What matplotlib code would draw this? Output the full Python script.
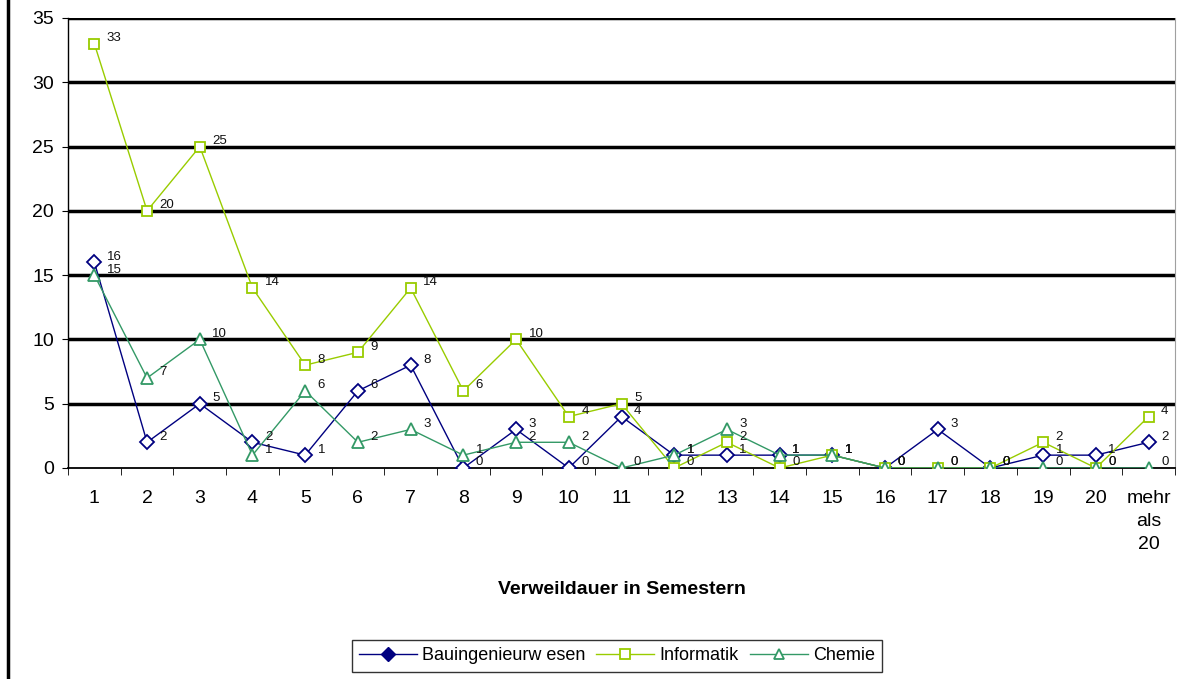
import matplotlib.pyplot as plt
import numpy as np
from matplotlib.lines import Line2D

categories = ['1', '2', '3', '4', '5', '6', '7', '8', '9', '10', '11', '12', '13', '14',
              '15', '16', '17', '18', '19', '20', 'mehr\nals\n20']
bau = [16, 2, 5, 2, 1, 6, 8, 0, 3, 0, 4, 1, 1, 1, 1, 0, 3, 0, 1, 1, 2]
informatik = [33, 20, 25, 14, 8, 9, 14, 6, 10, 4, 5, 0, 2, 0, 1, 0, 0, 0, 2, 0, 4]
chemie = [15, 7, 10, 1, 6, 2, 3, 1, 2, 2, 0, 1, 3, 1, 1, 0, 0, 0, 0, 0, 0]

plt.rcParams['font.family'] = ['Liberation Sans', 'DejaVu Sans']

fig = plt.figure(figsize=(11.85, 6.79), dpi=100)
ax = fig.add_axes([68 / 1185, 1 - 468 / 679, (1175 - 68) / 1185, (468 - 18) / 679])

x = np.arange(len(categories))
series = [
    ('Bauingenieurw esen', bau, '#000080', 'D', 7),
    ('Informatik', informatik, '#99CC00', 's', 7.5),
    ('Chemie', chemie, '#339966', '^', 8),
]

for name, vals, col, mk, ms in series:
    ax.plot(x, vals, color=col, lw=1, marker=mk, ms=ms, mfc='white',
            mec=col, mew=1.3, zorder=3)
    for xi, v in zip(x, vals):
        ax.annotate(str(v), (xi, v), xytext=(9, 4), textcoords='offset points',
                    fontsize=9.5, color='#111111', va='center', ha='left', zorder=4)

ax.set_ylim(0, 35)
ax.set_xlim(-0.5, len(categories) - 0.5)
ax.set_yticks(range(0, 36, 5))
ax.tick_params(axis='y', labelsize=14, length=4, direction='out', pad=6)
for yv in range(5, 36, 5):
    ax.axhline(yv, color='black', lw=2.5, zorder=1)

ax.set_xticks(x)
ax.set_xticklabels(categories, fontsize=14, va='top', linespacing=1.45)
ax.set_xticks(np.arange(-0.5, len(categories), 1), minor=True)
ax.tick_params(axis='x', which='major', length=0, pad=16)
ax.tick_params(axis='x', which='minor', length=5, direction='out')

ax.spines['top'].set_visible(False)
ax.spines['right'].set_color('#a0a0a0')
ax.spines['left'].set_linewidth(1)
ax.spines['bottom'].set_linewidth(1.3)

ax.set_xlabel('Verweildauer in Semestern', fontsize=14, fontweight='bold', labelpad=20)

handles = [
    Line2D([], [], color='#000080', lw=1, marker='D', ms=7, mfc='#000080', mec='#000080'),
    Line2D([], [], color='#99CC00', lw=1, marker='s', ms=7, mfc='white', mec='#99CC00', mew=1.3),
    Line2D([], [], color='#339966', lw=1, marker='^', ms=7, mfc='white', mec='#339966', mew=1.3),
]
leg = fig.legend(handles, [s[0] for s in series], loc='center', bbox_to_anchor=(617 / 1185, 1 - 656 / 679),
                 ncol=3, fontsize=13, frameon=True, fancybox=False, edgecolor='black',
                 handlelength=3.2, handletextpad=0.3, columnspacing=0.6, borderpad=0.4)
leg.get_frame().set_linewidth(1)

fig.add_artist(Line2D([8 / 1185, 8 / 1185], [0, 1], color='black', lw=2.5))

fig.savefig('out.png', dpi=100)
